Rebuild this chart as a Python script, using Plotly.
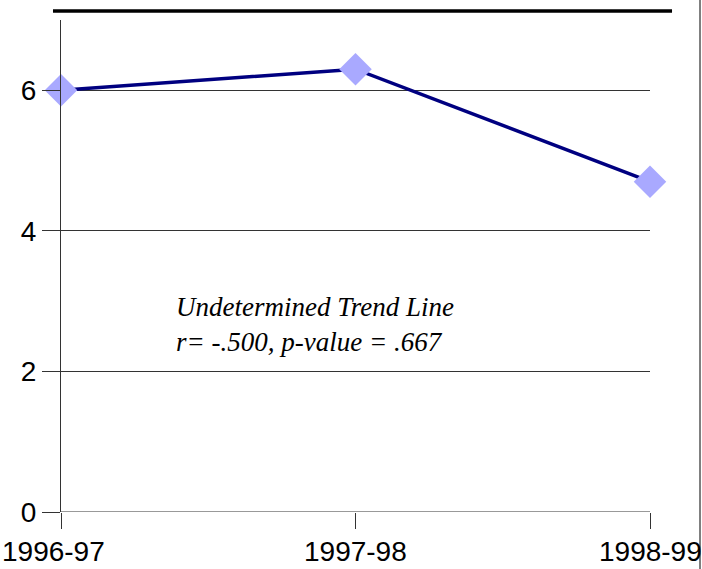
import plotly.graph_objects as go

categories = ["1996-97", "1997-98", "1998-99"]
values = [6.0, 6.3, 4.7]
y_ticks = [0, 2, 4, 6]
note_lines = ["Undetermined Trend Line", "r= -.500, p-value = .667"]

x_idx = list(range(len(categories)))

fig = go.Figure()
fig.add_trace(go.Scatter(
    x=x_idx, y=values, mode="lines+markers",
    line=dict(color="#000080", width=3.5),
    marker=dict(symbol="diamond", size=25, color="#A9A9FF", line=dict(width=0)),
    cliponaxis=False, showlegend=False, hoverinfo="skip",
))

label_annotations = []
for i, cat in enumerate(categories):
    label_annotations.append(dict(
        xref="x", yref="paper", x=i, y=-0.0813,
        xanchor="center", yanchor="middle", showarrow=False, text=cat,
        font=dict(family="Liberation Sans, Arial", size=28, color="black"),
    ))
label_annotations[0].update(xref="paper", x=-61 / 589, xanchor="left")

fig.update_layout(
    width=702, height=569,
    margin=dict(l=61, r=52, t=20, b=57, autoexpand=False),
    paper_bgcolor="white", plot_bgcolor="white",
    xaxis=dict(
        range=[0, 2], tickvals=x_idx, ticktext=categories,
        showgrid=False, zeroline=False, showline=False, showticklabels=False,
        ticks="outside", ticklen=16, tickcolor="#333", tickwidth=1,
        automargin=False, fixedrange=True,
    ),
    yaxis=dict(
        range=[0, 7], tickvals=y_ticks,
        showgrid=True, gridcolor="#333", gridwidth=1,
        zeroline=False, showline=True, linecolor="#333", linewidth=1,
        ticks="outside", ticklen=18, tickcolor="#333", tickwidth=1,
        tickfont=dict(family="Liberation Sans, Arial", size=28, color="black"),
        automargin=False, fixedrange=True,
    ),
    shapes=[
        dict(type="line", xref="paper", yref="y", x0=0, x1=1, y0=0, y1=0,
             line=dict(color="#333", width=1), layer="below"),
        dict(type="line", xref="paper", yref="paper", x0=-0.0136, x1=1.0374,
             y0=1.0183, y1=1.0183, line=dict(color="black", width=3.5)),
        dict(type="line", xref="paper", yref="paper", x0=1.0849, x1=1.0849,
             y0=1.05, y1=-0.12, line=dict(color="black", width=1)),
    ],
    annotations=label_annotations + [dict(
        xref="paper", yref="y", x=(174 - 61) / 589, y=2.67,
        xanchor="left", yanchor="middle", align="left", showarrow=False,
        text="<br>".join(f"<i>{t}</i>" for t in note_lines),
        font=dict(family="Liberation Serif, DejaVu Serif", size=27, color="black"),
    )],
)

fig.write_html(
    "out.html",
    config={"displayModeBar": False, "staticPlot": True},
    post_script="document.body.style.margin='0';document.body.style.overflow='hidden';",
)
